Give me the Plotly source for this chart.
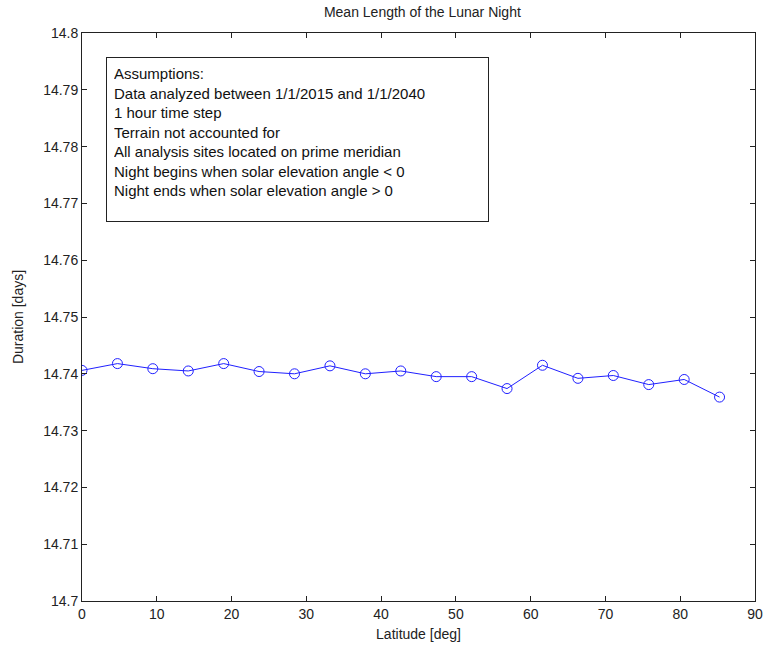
import plotly.graph_objects as go

latitude = [0.0, 4.74, 9.47, 14.21, 18.95, 23.68, 28.42, 33.16, 37.89, 42.63,
            47.37, 52.11, 56.84, 61.58, 66.32, 71.05, 75.79, 80.53, 85.26]
duration = [14.7406, 14.7418, 14.7409, 14.7405, 14.7418, 14.7404, 14.7400, 14.7414,
            14.7400, 14.7405, 14.7395, 14.7395, 14.7374, 14.7415, 14.7392, 14.7397,
            14.7381, 14.7390, 14.7359]

assumptions = [
    "Assumptions:",
    "Data analyzed between 1/1/2015 and 1/1/2040",
    "1 hour time step",
    "Terrain not accounted for",
    "All analysis sites located on prime meridian",
    "Night begins when solar elevation angle < 0",
    "Night ends when solar elevation angle > 0",
]

FONT = "Liberation Sans, Arial, sans-serif"

fig = go.Figure()
fig.add_trace(go.Scatter(
    x=latitude, y=duration, mode="lines+markers",
    line=dict(color="#2020ff", width=1),
    marker=dict(symbol="circle-open", size=10, color="#2020ff", line=dict(width=1)),
    showlegend=False,
))

fig.add_annotation(
    xref="paper", yref="paper", x=0.0352, y=0.958, xanchor="left", yanchor="top",
    text="<br>".join(assumptions),
    showarrow=False, align="left", valign="top",
    font=dict(family=FONT, size=15, color="#111"),
    bordercolor="#222", borderwidth=1, borderpad=7, bgcolor="white",
    width=367, height=149,
)

axis_common = dict(
    showgrid=False, zeroline=False, showline=True, linecolor="#222", linewidth=1,
    mirror="allticks", ticks="inside", ticklen=5, tickcolor="#222",
    tickfont=dict(family=FONT, size=14, color="#222"),
)

fig.update_layout(
    width=775, height=652,
    margin=dict(l=82, r=12, t=33, b=50),
    paper_bgcolor="white", plot_bgcolor="white",
    title=dict(text="Mean Length of the Lunar Night", x=0.545, xanchor="center",
               y=0.982, yanchor="middle",
               font=dict(family=FONT, size=14, color="#222")),
    xaxis=dict(range=[0, 90], dtick=10, tick0=0,
               title=dict(text="Latitude [deg]", standoff=8,
                          font=dict(family=FONT, size=14, color="#222")),
               **axis_common),
    yaxis=dict(range=[14.7, 14.8], dtick=0.01, tick0=14.7,
               title=dict(text="Duration [days]", standoff=16,
                          font=dict(family=FONT, size=14, color="#222")),
               **axis_common),
)

fig.write_html("out.html")
